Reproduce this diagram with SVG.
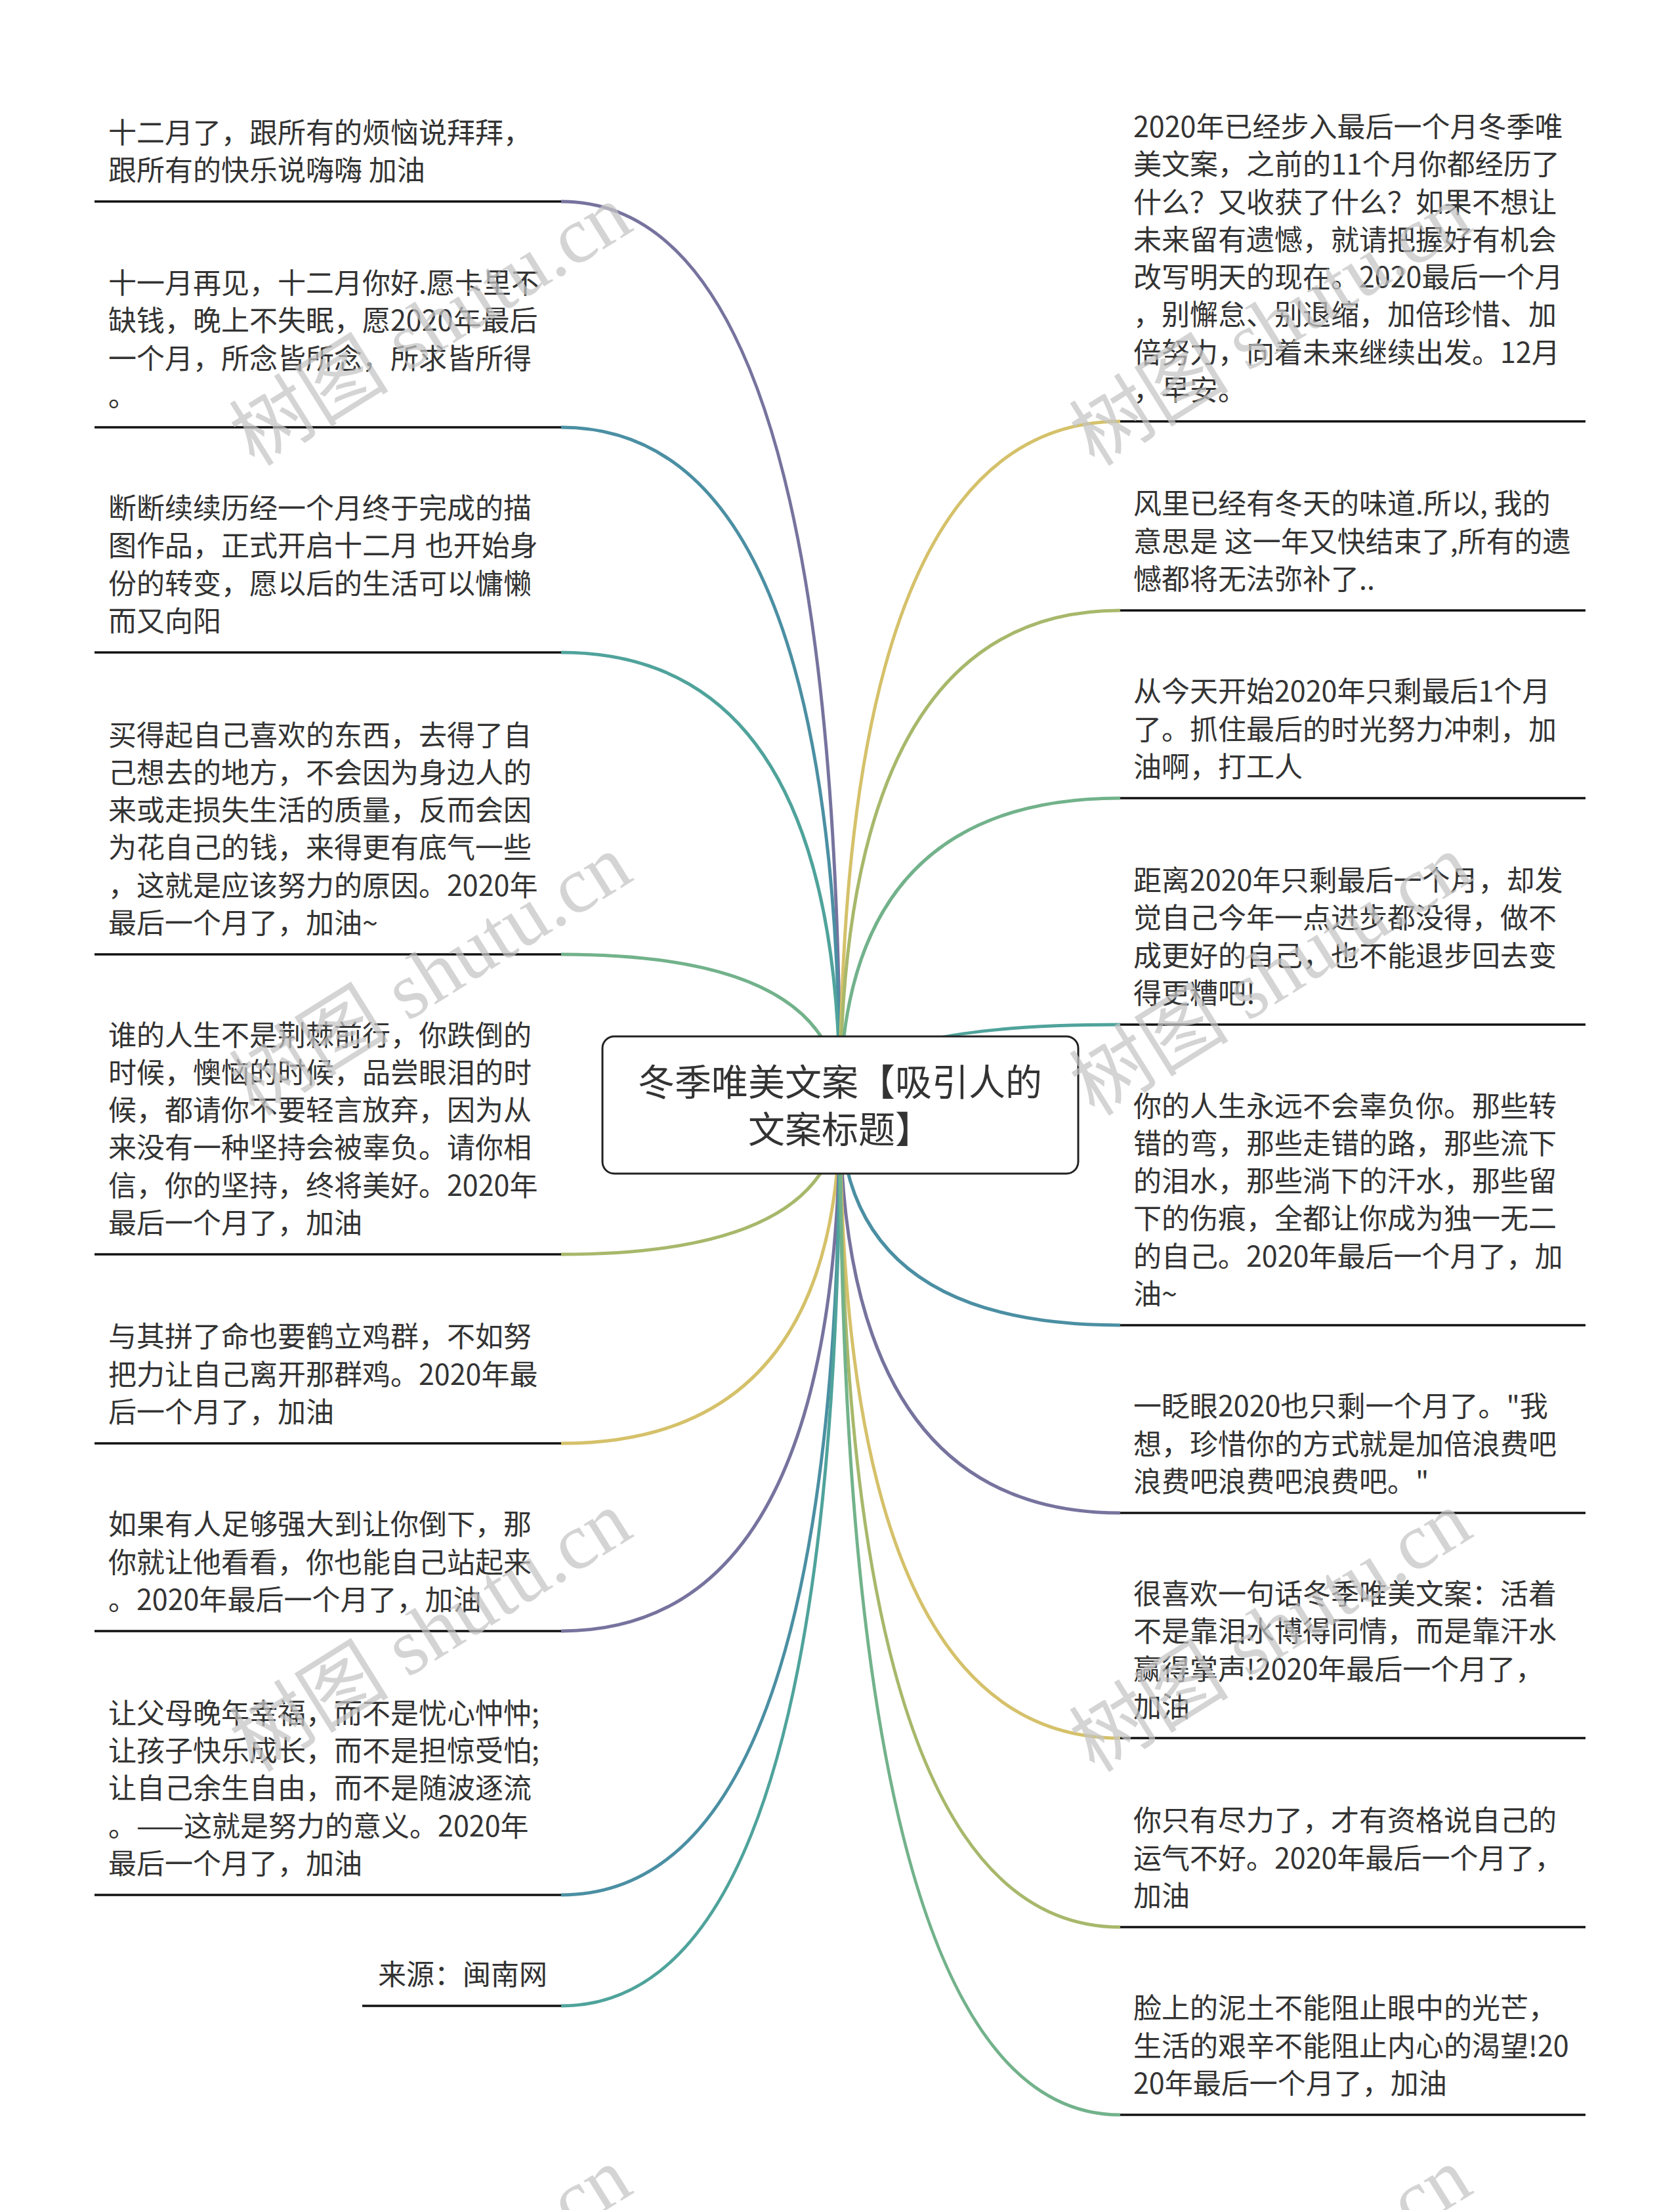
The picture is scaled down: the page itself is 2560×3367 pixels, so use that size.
<svg xmlns="http://www.w3.org/2000/svg" width="2560" height="3367" viewBox="0 0 2560 3367">
<style>
.c{fill:none;stroke-width:5;stroke-linecap:butt}
.u{stroke:#111;stroke-width:3.5}
.t{font-family:"Noto Sans CJK SC","Liberation Sans",sans-serif;font-size:43px;fill:#333}
.title{font-family:"Noto Sans CJK SC","Liberation Sans",sans-serif;font-size:56px;fill:#333;text-anchor:middle}
.wm{font-family:"Liberation Serif","Noto Sans CJK SC",serif;font-size:122px;fill:#c4c4c4;opacity:0.72}
.p{stroke:#76739e}.tb{stroke:#4b8fa3}.tl{stroke:#4fa39b}.lg{stroke:#72b28b}.ol{stroke:#a7b86b}.ye{stroke:#d5c16a}
</style>
<rect width="2560" height="3367" fill="#fff"/>
<g id="connectors">
<path class="c p" d="M1280 1683 Q1280 307 855 307"/>
<path class="c tb" d="M1280 1683 Q1280 651 855 651"/>
<path class="c tl" d="M1280 1683 Q1280 994 855 994"/>
<path class="c lg" d="M1280 1683 Q1280 1454 855 1454"/>
<path class="c ol" d="M1280 1683 Q1280 1911 855 1911"/>
<path class="c ye" d="M1280 1683 Q1280 2199 855 2199"/>
<path class="c p" d="M1280 1683 Q1280 2485 855 2485"/>
<path class="c tb" d="M1280 1683 Q1280 2887 855 2887"/>
<path class="c tl" d="M1280 1683 Q1280 3056 855 3056"/>
<path class="c ye" d="M1280 1683 Q1280 642 1707 642"/>
<path class="c ol" d="M1280 1683 Q1280 930 1707 930"/>
<path class="c lg" d="M1280 1683 Q1280 1216 1707 1216"/>
<path class="c tl" d="M1280 1683 Q1280 1561 1707 1561"/>
<path class="c tb" d="M1280 1683 Q1280 2019 1707 2019"/>
<path class="c p" d="M1280 1683 Q1280 2305 1707 2305"/>
<path class="c ye" d="M1280 1683 Q1280 2648 1707 2648"/>
<path class="c ol" d="M1280 1683 Q1280 2936 1707 2936"/>
<path class="c lg" d="M1280 1683 Q1280 3222 1707 3222"/>
</g>
<g id="root">
<rect x="918" y="1579" width="725" height="209" rx="18" fill="#fff" stroke="#222" stroke-width="3"/>
<text class="title" x="1280" y="1669">冬季唯美文案【吸引人的</text>
<text class="title" x="1280" y="1741">文案标题】</text>
</g>
<g id="n-l1">
<line class="u" x1="144" y1="307" x2="855" y2="307"/>
<text class="t" x="165" y="218">十二月了，跟所有的烦恼说拜拜，</text>
<text class="t" x="165" y="275">跟所有的快乐说嗨嗨 加油</text>
</g>
<g id="n-l2">
<line class="u" x1="144" y1="651" x2="855" y2="651"/>
<text class="t" x="165" y="447">十一月再见，十二月你好.愿卡里不</text>
<text class="t" x="165" y="504">缺钱，晚上不失眠，愿2020年最后</text>
<text class="t" x="165" y="562">一个月，所念皆所念，所求皆所得</text>
<text class="t" x="165" y="619">。</text>
</g>
<g id="n-l3">
<line class="u" x1="144" y1="994" x2="855" y2="994"/>
<text class="t" x="165" y="790">断断续续历经一个月终于完成的描</text>
<text class="t" x="165" y="847">图作品，正式开启十二月 也开始身</text>
<text class="t" x="165" y="905">份的转变，愿以后的生活可以慵懒</text>
<text class="t" x="165" y="962">而又向阳</text>
</g>
<g id="n-l4">
<line class="u" x1="144" y1="1454" x2="855" y2="1454"/>
<text class="t" x="165" y="1136">买得起自己喜欢的东西，去得了自</text>
<text class="t" x="165" y="1193">己想去的地方，不会因为身边人的</text>
<text class="t" x="165" y="1250">来或走损失生活的质量，反而会因</text>
<text class="t" x="165" y="1307">为花自己的钱，来得更有底气一些</text>
<text class="t" x="165" y="1365">，这就是应该努力的原因。2020年</text>
<text class="t" x="165" y="1422">最后一个月了，加油~</text>
</g>
<g id="n-l5">
<line class="u" x1="144" y1="1911" x2="855" y2="1911"/>
<text class="t" x="165" y="1593">谁的人生不是荆棘前行，你跌倒的</text>
<text class="t" x="165" y="1650">时候，懊恼的时候，品尝眼泪的时</text>
<text class="t" x="165" y="1707">候，都请你不要轻言放弃，因为从</text>
<text class="t" x="165" y="1764">来没有一种坚持会被辜负。请你相</text>
<text class="t" x="165" y="1822">信，你的坚持，终将美好。2020年</text>
<text class="t" x="165" y="1879">最后一个月了，加油</text>
</g>
<g id="n-l6">
<line class="u" x1="144" y1="2199" x2="855" y2="2199"/>
<text class="t" x="165" y="2052">与其拼了命也要鹤立鸡群，不如努</text>
<text class="t" x="165" y="2110">把力让自己离开那群鸡。2020年最</text>
<text class="t" x="165" y="2167">后一个月了，加油</text>
</g>
<g id="n-l7">
<line class="u" x1="144" y1="2485" x2="855" y2="2485"/>
<text class="t" x="165" y="2338">如果有人足够强大到让你倒下，那</text>
<text class="t" x="165" y="2396">你就让他看看，你也能自己站起来</text>
<text class="t" x="165" y="2453">。2020年最后一个月了，加油</text>
</g>
<g id="n-l8">
<line class="u" x1="144" y1="2887" x2="855" y2="2887"/>
<text class="t" x="165" y="2626">让父母晚年幸福，而不是忧心忡忡;</text>
<text class="t" x="165" y="2683">让孩子快乐成长，而不是担惊受怕;</text>
<text class="t" x="165" y="2740">让自己余生自由，而不是随波逐流</text>
<text class="t" x="165" y="2798">。——这就是努力的意义。2020年</text>
<text class="t" x="165" y="2855">最后一个月了，加油</text>
</g>
<g id="n-l9">
<line class="u" x1="552" y1="3056" x2="855" y2="3056"/>
<text class="t" x="576" y="3024">来源：闽南网</text>
</g>
<g id="n-r1">
<line class="u" x1="1707" y1="642" x2="2416" y2="642"/>
<text class="t" x="1727" y="209">2020年已经步入最后一个月冬季唯</text>
<text class="t" x="1727" y="266">美文案，之前的11个月你都经历了</text>
<text class="t" x="1727" y="324">什么？又收获了什么？如果不想让</text>
<text class="t" x="1727" y="381">未来留有遗憾，就请把握好有机会</text>
<text class="t" x="1727" y="438">改写明天的现在。2020最后一个月</text>
<text class="t" x="1727" y="495">，别懈怠、别退缩，加倍珍惜、加</text>
<text class="t" x="1727" y="553">倍努力，向着未来继续出发。12月</text>
<text class="t" x="1727" y="610">，早安。</text>
</g>
<g id="n-r2">
<line class="u" x1="1707" y1="930" x2="2416" y2="930"/>
<text class="t" x="1727" y="783">风里已经有冬天的味道.所以, 我的</text>
<text class="t" x="1727" y="841">意思是 这一年又快结束了,所有的遗</text>
<text class="t" x="1727" y="898">憾都将无法弥补了..</text>
</g>
<g id="n-r3">
<line class="u" x1="1707" y1="1216" x2="2416" y2="1216"/>
<text class="t" x="1727" y="1069">从今天开始2020年只剩最后1个月</text>
<text class="t" x="1727" y="1127">了。抓住最后的时光努力冲刺，加</text>
<text class="t" x="1727" y="1184">油啊，打工人</text>
</g>
<g id="n-r4">
<line class="u" x1="1707" y1="1561" x2="2416" y2="1561"/>
<text class="t" x="1727" y="1357">距离2020年只剩最后一个月，却发</text>
<text class="t" x="1727" y="1414">觉自己今年一点进步都没得，做不</text>
<text class="t" x="1727" y="1472">成更好的自己，也不能退步回去变</text>
<text class="t" x="1727" y="1529">得更糟吧!</text>
</g>
<g id="n-r5">
<line class="u" x1="1707" y1="2019" x2="2416" y2="2019"/>
<text class="t" x="1727" y="1701">你的人生永远不会辜负你。那些转</text>
<text class="t" x="1727" y="1758">错的弯，那些走错的路，那些流下</text>
<text class="t" x="1727" y="1815">的泪水，那些淌下的汗水，那些留</text>
<text class="t" x="1727" y="1872">下的伤痕，全都让你成为独一无二</text>
<text class="t" x="1727" y="1930">的自己。2020年最后一个月了，加</text>
<text class="t" x="1727" y="1987">油~</text>
</g>
<g id="n-r6">
<line class="u" x1="1707" y1="2305" x2="2416" y2="2305"/>
<text class="t" x="1727" y="2158">一眨眼2020也只剩一个月了。"我</text>
<text class="t" x="1727" y="2216">想，珍惜你的方式就是加倍浪费吧</text>
<text class="t" x="1727" y="2273">浪费吧浪费吧浪费吧。"</text>
</g>
<g id="n-r7">
<line class="u" x1="1707" y1="2648" x2="2416" y2="2648"/>
<text class="t" x="1727" y="2444">很喜欢一句话冬季唯美文案：活着</text>
<text class="t" x="1727" y="2501">不是靠泪水博得同情，而是靠汗水</text>
<text class="t" x="1727" y="2559">赢得掌声!2020年最后一个月了，</text>
<text class="t" x="1727" y="2616">加油</text>
</g>
<g id="n-r8">
<line class="u" x1="1707" y1="2936" x2="2416" y2="2936"/>
<text class="t" x="1727" y="2789">你只有尽力了，才有资格说自己的</text>
<text class="t" x="1727" y="2847">运气不好。2020年最后一个月了，</text>
<text class="t" x="1727" y="2904">加油</text>
</g>
<g id="n-r9">
<line class="u" x1="1707" y1="3222" x2="2416" y2="3222"/>
<text class="t" x="1727" y="3075">脸上的泥土不能阻止眼中的光芒，</text>
<text class="t" x="1727" y="3133">生活的艰辛不能阻止内心的渴望!20</text>
<text class="t" x="1727" y="3190">20年最后一个月了，加油</text>
</g>
<g id="watermark">
<text class="wm" transform="translate(388 712) rotate(-32)">树图 shutu.cn</text>
<text class="wm" transform="translate(388 1702) rotate(-32)">树图 shutu.cn</text>
<text class="wm" transform="translate(388 2702) rotate(-32)">树图 shutu.cn</text>
<text class="wm" transform="translate(388 3702) rotate(-32)">树图 shutu.cn</text>
<text class="wm" transform="translate(1668 712) rotate(-32)">树图 shutu.cn</text>
<text class="wm" transform="translate(1668 1702) rotate(-32)">树图 shutu.cn</text>
<text class="wm" transform="translate(1668 2702) rotate(-32)">树图 shutu.cn</text>
<text class="wm" transform="translate(1668 3702) rotate(-32)">树图 shutu.cn</text>
</g>
</svg>
